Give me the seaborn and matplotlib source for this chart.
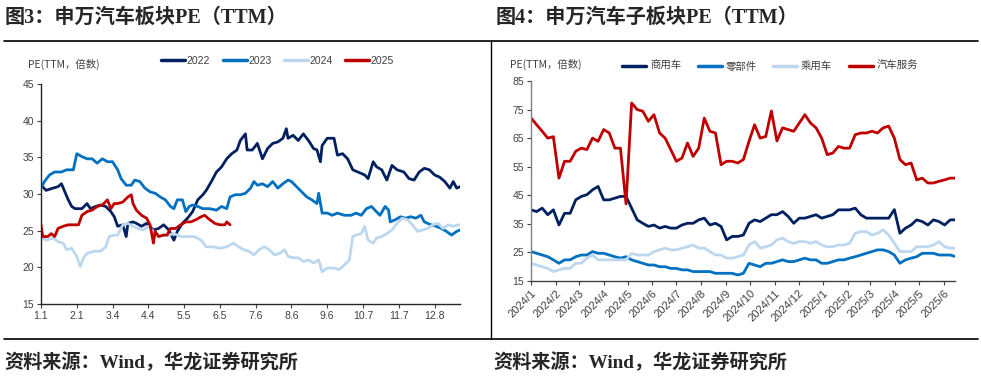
import pandas as pd
import matplotlib
matplotlib.use("Agg")
import matplotlib.pyplot as plt
import seaborn as sns
from matplotlib.lines import Line2D

sns.set_style("ticks")
plt.rcParams["font.family"] = ["Liberation Sans", "Noto Sans CJK SC"]

#%% data, left chart: trading day index within each year
days_2022 = [0, 3, 7, 10, 12, 14, 16, 18, 20, 24, 27, 29, 32, 35, 38, 41, 43, 45, 48, 50, 51, 54, 56, 59, 62, 66,
             69, 72, 75, 78, 80, 83, 86, 89, 92, 95, 97, 100, 103, 106, 109, 112, 115, 117, 120, 121, 124, 127,
             130, 133, 136, 139, 142, 144, 145, 148, 151, 154, 157, 160, 162, 164, 165, 168, 172, 174, 177, 180,
             183, 186, 190, 192, 195, 197, 200, 203, 206, 209, 213, 216, 219, 222, 225, 228, 231, 234, 237, 240,
             242, 244, 246]
pe_2022 = [31.2, 30.5, 30.8, 31.0, 31.4, 30.3, 29.2, 28.3, 28.0, 28.0, 28.7, 28.0, 28.3, 28.5, 28.3, 27.6, 26.9,
           25.6, 25.8, 24.2, 26.0, 26.2, 26.0, 25.6, 26.0, 25.1, 25.3, 25.8, 25.1, 23.7, 24.9, 26.0, 26.7, 27.6,
           29.2, 29.9, 30.5, 31.7, 33.0, 33.7, 34.8, 35.5, 36.0, 37.3, 38.2, 36.0, 36.0, 36.9, 34.8, 36.2, 36.9,
           37.1, 37.6, 38.9, 37.6, 38.0, 37.3, 38.2, 37.3, 36.2, 36.0, 34.4, 36.6, 37.6, 37.6, 35.3, 35.5, 34.8,
           33.3, 33.0, 32.6, 32.1, 34.4, 33.7, 33.3, 31.9, 33.9, 33.3, 33.0, 32.1, 31.9, 33.0, 33.5, 33.3, 32.6,
           32.3, 31.7, 30.8, 31.7, 30.8, 31.0]

days_2023 = [0, 2, 5, 8, 12, 15, 19, 21, 24, 27, 30, 33, 36, 39, 42, 45, 47, 50, 53, 55, 58, 61, 64, 67, 70, 73,
             76, 78, 80, 83, 85, 87, 89, 92, 95, 99, 103, 106, 109, 111, 114, 117, 120, 123, 125, 127, 130, 133,
             136, 139, 142, 145, 147, 150, 153, 156, 159, 162, 163, 165, 168, 171, 174, 178, 182, 185, 188, 191,
             194, 196, 199, 202, 204, 205, 208, 211, 214, 217, 220, 223, 225, 229, 232, 235, 238, 241, 244, 246]
pe_2023 = [30.8, 31.7, 32.6, 33.0, 33.0, 33.3, 33.3, 35.5, 35.1, 34.8, 34.8, 34.2, 34.8, 34.4, 34.4, 33.3, 32.1,
           31.2, 31.2, 31.9, 31.7, 30.8, 30.3, 30.1, 29.6, 29.2, 28.3, 28.0, 29.2, 29.2, 27.6, 28.3, 28.5, 28.3,
           28.0, 28.0, 27.8, 28.3, 28.0, 29.6, 29.9, 29.9, 30.1, 30.8, 31.7, 31.2, 31.4, 31.0, 31.7, 30.8, 31.4,
           31.9, 31.7, 31.0, 30.3, 29.6, 29.2, 28.7, 30.1, 27.4, 27.4, 27.1, 27.4, 27.1, 27.1, 27.4, 27.1, 28.0,
           28.3, 27.8, 27.1, 28.3, 27.8, 26.2, 26.5, 26.9, 26.7, 26.9, 26.7, 27.1, 26.2, 25.8, 25.6, 25.3, 24.9,
           24.4, 24.9, 25.1]

days_2024 = [0, 3, 7, 10, 13, 15, 18, 21, 23, 25, 27, 31, 35, 38, 40, 43, 45, 48, 51, 54, 57, 60, 63, 66, 69, 72,
             75, 78, 82, 86, 90, 94, 97, 101, 105, 109, 113, 116, 119, 122, 125, 128, 131, 134, 137, 140, 143,
             145, 148, 151, 154, 157, 160, 163, 165, 168, 172, 175, 178, 181, 183, 185, 188, 190, 192, 195, 197,
             200, 203, 206, 209, 212, 215, 218, 221, 224, 227, 230, 233, 236, 239, 242, 245, 246]
pe_2024 = [24.2, 23.7, 24.0, 23.5, 23.3, 22.4, 22.6, 21.5, 20.1, 21.3, 21.9, 22.2, 22.2, 22.8, 24.2, 24.4, 24.4,
           25.8, 26.0, 25.6, 25.3, 25.1, 25.6, 24.9, 24.2, 24.4, 24.4, 24.6, 24.2, 24.2, 24.2, 23.7, 22.8, 22.8,
           22.6, 22.8, 23.3, 22.8, 22.4, 22.2, 21.7, 22.4, 22.8, 22.4, 21.7, 21.9, 22.4, 21.5, 21.3, 21.3, 20.8,
           21.0, 20.6, 21.0, 19.4, 19.9, 19.9, 19.7, 20.3, 21.0, 24.2, 24.4, 24.6, 25.6, 23.7, 23.3, 24.0, 24.2,
           24.6, 25.1, 26.0, 26.7, 26.5, 25.8, 24.9, 25.1, 25.3, 25.8, 26.0, 25.3, 25.8, 25.6, 25.8, 25.8]

days_2025 = [0, 1, 4, 6, 8, 10, 13, 16, 19, 22, 24, 27, 30, 33, 36, 39, 41, 43, 45, 48, 51, 53, 54, 56, 59, 62,
             64, 66, 67, 69, 72, 74, 76, 79, 82, 85, 88, 91, 94, 96, 99, 102, 105, 108, 109, 111]
pe_2025 = [25.8, 24.2, 24.2, 24.6, 24.2, 25.3, 25.6, 25.8, 25.8, 25.8, 27.1, 27.6, 27.8, 28.3, 28.5, 29.2, 28.0,
           28.7, 28.7, 28.9, 29.6, 29.9, 28.7, 27.8, 27.1, 26.7, 25.8, 23.3, 24.9, 24.2, 24.4, 24.4, 25.3, 25.3,
           25.8, 26.2, 26.2, 26.5, 26.9, 27.1, 26.5, 26.0, 25.8, 25.8, 26.2, 25.8]

left_ticks = [0, 21, 42, 63, 84, 105, 126, 147, 168, 189, 210, 231]
left_labels = ["1.1", "2.1", "3.4", "4.4", "5.5", "6.5", "7.6", "8.6", "9.6", "10.7", "11.7", "12.8"]

#%% data, right chart: weekly readings from 2024-01-01
week_start = "2024-01-01"
pe_commercial = [39.9, 39.3, 40.5, 38.2, 39.9, 34.6, 38.7, 38.7, 43.4, 44.6, 45.2, 46.9, 48.1, 43.4, 43.4, 44.0,
                 44.6, 44.6, 40.5, 36.4, 35.2, 34.1, 34.6, 33.5, 34.1, 33.5, 33.5, 34.6, 35.2, 35.2, 36.4, 37.0,
                 34.6, 35.2, 34.1, 29.4, 30.6, 30.6, 31.1, 35.2, 36.4, 35.8, 37.0, 38.2, 38.2, 39.3, 37.6, 35.2,
                 37.0, 37.0, 37.6, 38.2, 37.0, 37.6, 38.2, 39.9, 39.9, 39.9, 40.5, 38.2, 37.0, 37.0, 37.0, 37.0,
                 37.0, 40.0, 31.7, 33.5, 34.6, 36.4, 35.8, 34.6, 36.4, 35.8, 34.6, 36.4, 36.4]
pe_parts = [25.3, 24.7, 24.1, 23.5, 22.4, 21.2, 22.4, 22.4, 23.5, 24.1, 24.1, 25.3, 24.7, 24.7, 24.1, 23.5, 23.0,
            23.5, 22.4, 21.8, 21.2, 20.6, 20.6, 20.0, 20.0, 19.4, 19.4, 18.9, 18.9, 18.3, 18.3, 18.3, 18.3, 17.7,
            17.7, 17.7, 17.7, 17.1, 17.7, 21.2, 20.6, 20.0, 21.2, 21.2, 21.8, 22.4, 21.8, 21.8, 22.4, 23.0, 22.4,
            22.4, 21.2, 21.2, 21.8, 22.4, 22.4, 23.0, 23.5, 24.1, 24.7, 25.3, 25.9, 25.9, 25.3, 24.1, 21.2, 22.4,
            23.0, 23.5, 24.7, 24.7, 24.7, 24.1, 24.1, 24.1, 23.5]
pe_passenger = [21.2, 20.6, 20.0, 19.4, 18.3, 18.9, 19.4, 19.4, 21.2, 21.2, 23.0, 24.1, 22.4, 22.4, 22.4, 22.4,
                22.4, 22.4, 24.7, 24.1, 24.1, 24.1, 25.3, 25.9, 26.5, 25.9, 25.9, 26.5, 27.0, 27.6, 26.5, 26.5,
                25.3, 24.1, 24.1, 23.0, 23.0, 23.5, 24.1, 27.6, 28.8, 26.5, 27.0, 27.6, 29.4, 30.0, 28.8, 28.2,
                28.8, 28.8, 28.2, 28.8, 27.6, 27.0, 27.0, 27.6, 27.6, 28.2, 31.7, 32.3, 32.3, 31.1, 31.7, 32.9,
                31.1, 28.2, 25.3, 25.3, 25.3, 27.0, 27.0, 27.0, 27.6, 28.8, 27.0, 26.5, 26.5]
pe_service = [72.1, 69.7, 67.4, 65.0, 65.5, 51.0, 56.9, 56.9, 60.4, 61.5, 61.0, 65.0, 63.9, 68.0, 66.8, 61.5,
              61.5, 42.0, 77.3, 75.0, 74.4, 70.9, 73.2, 66.8, 65.0, 61.0, 56.9, 58.0, 63.3, 58.6, 61.5, 72.0,
              67.4, 66.8, 55.7, 56.9, 56.9, 56.3, 57.5, 63.9, 69.7, 65.0, 65.6, 74.5, 64.0, 68.6, 68.0, 67.4,
              70.3, 73.2, 70.3, 68.6, 65.0, 59.2, 59.8, 62.1, 61.5, 61.5, 66.2, 66.8, 66.8, 67.4, 66.8, 68.6,
              69.2, 65.0, 57.5, 55.7, 56.3, 50.4, 51.0, 49.3, 49.3, 49.9, 50.4, 51.0, 51.0]
sectors = ["商用车", "零部件", "乘用车", "汽车服务"]

year_colors = {"2022": "#002060", "2023": "#0070C0", "2024": "#BDD7EE", "2025": "#C00000"}
sector_colors = dict(zip(sectors, ["#002060", "#0070C0", "#BDD7EE", "#C00000"]))

#%% long tables
left = pd.concat([pd.DataFrame({"day": d, "pe": v, "year": y})
                  for y, d, v in [("2022", days_2022, pe_2022), ("2023", days_2023, pe_2023),
                                  ("2024", days_2024, pe_2024), ("2025", days_2025, pe_2025)]])

dates = pd.date_range(week_start, periods=len(pe_service), freq="7D")
right = pd.concat([pd.DataFrame({"date": dates, "pe": v, "sector": s})
                   for s, v in zip(sectors, [pe_commercial, pe_parts, pe_passenger, pe_service])])

#%% figure
fig = plt.figure(figsize=(9.81, 3.86), dpi=100)
ax1 = fig.add_axes([0.0418, 0.2124, 0.4272, 0.5700])
ax2 = fig.add_axes([0.5413, 0.2720, 0.4322, 0.5182])

sns.lineplot(data=left, x="day", y="pe", hue="year", palette=year_colors, linewidth=2.0,
             errorbar=None, ax=ax1)
sns.lineplot(data=right, x="date", y="pe", hue="sector", palette=sector_colors, linewidth=2.0,
             errorbar=None, ax=ax2)

tick_color = "#404040"
for ax in (ax1, ax2):
    sns.despine(ax=ax)
    ax.set_xlabel("")
    ax.set_ylabel("")
    ax.tick_params(axis="both", labelsize=7.5, colors=tick_color, length=3, width=0.8, pad=2)
    ax.spines["left"].set_linewidth(1.0)
    ax.spines["bottom"].set_linewidth(1.0)

ax1.spines["left"].set_color("#262626")
ax1.spines["bottom"].set_color("#262626")
ax1.set_ylim(15, 45)
ax1.set_yticks(range(15, 46, 5))
ax1.set_xlim(0, 246)
ax1.set_xticks(left_ticks)
ax1.set_xticklabels(left_labels)

ax2.spines["left"].set_color("#808080")
ax2.spines["bottom"].set_color("#404040")
ax2.set_ylim(15, 85)
ax2.set_yticks(range(15, 86, 10))
ax2.set_xlim(pd.Timestamp("2024-01-01"), pd.Timestamp("2025-06-15"))
month_ticks = pd.date_range("2024-01-01", "2025-06-01", freq="MS")
ax2.set_xticks(month_ticks)
ax2.set_xticklabels([f"{m.year}/{m.month}" for m in month_ticks], rotation=45,
                    ha="right", rotation_mode="anchor", fontsize=8)

# legends
for ax, cx, cy, gap, pad in [(ax1, 0.283, 0.842, 1.2, 0.15), (ax2, 0.785, 0.829, 1.6, 0.35)]:
    handles, labels = ax.get_legend_handles_labels()
    ax.get_legend().remove()
    for h in handles:
        h.set_linewidth(2.5)
    fig.legend(handles, labels, loc="center", bbox_to_anchor=(cx, cy), ncol=4, frameon=False,
               fontsize=7.5, handlelength=2.3, handletextpad=pad, columnspacing=gap,
               labelcolor=tick_color)

fig.text(0.0285, 0.834, "PE(TTM，倍数)", fontsize=7.5, color=tick_color, va="center",
         family=["Noto Sans CJK SC", "DejaVu Sans"])
fig.text(0.520, 0.832, "PE(TTM，倍数)", fontsize=7.5, color=tick_color, va="center",
         family=["Noto Sans CJK SC", "DejaVu Sans"])

# titles and footers
title_font = dict(fontsize=14.5, fontweight="bold", va="center",
                  family=["Liberation Serif", "Noto Sans CJK SC"])
foot_font = dict(title_font, fontsize=13.8)
fig.text(0.005, 0.953, "图3：申万汽车板块PE（TTM）", **title_font)
fig.text(0.505, 0.953, "图4：申万汽车子板块PE（TTM）", **title_font)
fig.text(0.004, 0.062, "资料来源：Wind，华龙证券研究所", **foot_font)
fig.text(0.503, 0.062, "资料来源：Wind，华龙证券研究所", **foot_font)

# frame lines
fig.add_artist(Line2D([0.004, 0.997], [0.894, 0.894], color="black", lw=1.2))
fig.add_artist(Line2D([0.004, 0.997], [0.122, 0.122], color="black", lw=1.2))
fig.add_artist(Line2D([0.5005, 0.5005], [0.122, 0.894], color="black", lw=1.0))

fig.savefig("out.png", dpi=100)
